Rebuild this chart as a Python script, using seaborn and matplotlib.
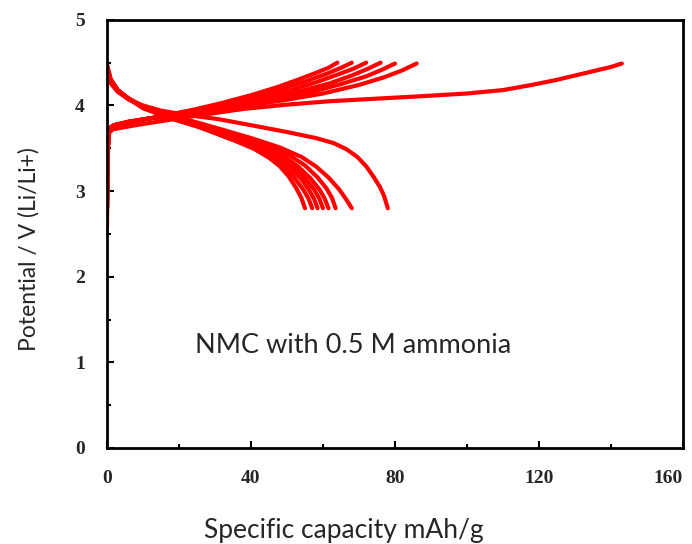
import pandas as pd
import seaborn as sns
import matplotlib.pyplot as plt
from matplotlib.ticker import MultipleLocator

# charge curves (capacity mAh/g, potential V) -- first cycle is the long one
charge_x = [
    [0, 0.2, 0.6, 1.5, 4, 8, 14, 20, 28, 38, 50, 62, 75, 88, 100, 110, 118, 125, 131, 136, 140, 143],
    [0, 0.2, 0.6, 2, 6, 12, 18, 25, 32, 40, 47, 53, 58, 61.5, 64],
    [0, 0.2, 0.6, 2, 6, 12, 18, 25, 32, 40, 48, 55, 61, 65, 68],
    [0, 0.2, 0.6, 2, 6, 12, 18, 25, 33, 42, 51, 58, 64, 68.5, 72],
    [0, 0.2, 0.6, 2, 6, 12, 18, 25, 34, 44, 54, 62, 68, 72.5, 76],
    [0, 0.2, 0.6, 2, 6, 12, 18, 26, 36, 47, 57, 65, 72, 76.5, 80],
    [0, 0.2, 0.6, 2, 6, 12, 18, 26, 37, 49, 60, 70, 77, 82, 86],
]
charge_y = [
    [2.57, 3.40, 3.68, 3.72, 3.74, 3.77, 3.81, 3.85, 3.90, 3.96, 4.01, 4.05, 4.08, 4.11, 4.14, 4.18, 4.24, 4.30, 4.36, 4.41, 4.45, 4.49],
    [2.80, 3.50, 3.72, 3.76, 3.80, 3.85, 3.90, 3.96, 4.03, 4.12, 4.21, 4.30, 4.38, 4.44, 4.50],
    [2.80, 3.50, 3.72, 3.76, 3.80, 3.85, 3.89, 3.95, 4.02, 4.10, 4.19, 4.28, 4.37, 4.44, 4.50],
    [2.80, 3.50, 3.73, 3.77, 3.81, 3.85, 3.89, 3.95, 4.01, 4.09, 4.18, 4.27, 4.36, 4.43, 4.50],
    [2.80, 3.50, 3.73, 3.77, 3.81, 3.85, 3.89, 3.94, 4.00, 4.08, 4.17, 4.26, 4.35, 4.43, 4.50],
    [2.80, 3.50, 3.73, 3.77, 3.81, 3.85, 3.88, 3.93, 4.00, 4.07, 4.16, 4.25, 4.34, 4.42, 4.49],
    [2.80, 3.50, 3.74, 3.77, 3.81, 3.85, 3.88, 3.93, 3.99, 4.06, 4.14, 4.24, 4.33, 4.41, 4.49],
]

# discharge curves -- the first (longest) one ends near 78 mAh/g
discharge_x = [
    [0, 1, 3, 6, 10, 15, 22, 31, 40, 50, 58, 63, 66.5, 69.5, 72, 74, 75.8, 77, 78],
    [0, 1, 3, 6, 10, 15, 20, 26, 31, 36, 41, 45, 48, 50.5, 52.5, 54, 55],
    [0, 1, 3, 6, 10, 15, 20, 26, 31, 36, 41, 46, 49.5, 52, 54.5, 56, 57],
    [0, 1, 3, 6, 10, 15, 20, 26, 31, 36, 42, 47, 51, 54, 56, 57.5, 58.5],
    [0, 1, 3, 6, 10, 15, 20, 26, 31, 37, 43, 48, 52, 55, 57.5, 59, 60],
    [0, 1, 3, 6, 10, 15, 20, 26, 31, 37, 44, 49, 53, 56.5, 59, 60.5, 61.5],
    [0, 1, 3, 6, 10, 15, 20, 26, 31, 38, 45, 51, 55, 58.5, 61, 62.5, 63.5],
    [0, 1, 3, 6, 10, 15, 20, 26, 31, 40, 48, 54, 58, 61.5, 64.5, 66.5, 68],
]
discharge_y = [
    [4.38, 4.26, 4.16, 4.07, 4.00, 3.94, 3.89, 3.84, 3.77, 3.69, 3.62, 3.56, 3.49, 3.40, 3.29, 3.17, 3.05, 2.94, 2.80],
    [4.48, 4.31, 4.18, 4.08, 3.97, 3.89, 3.82, 3.74, 3.66, 3.58, 3.49, 3.39, 3.29, 3.17, 3.04, 2.92, 2.80],
    [4.47, 4.30, 4.18, 4.08, 3.97, 3.89, 3.82, 3.75, 3.67, 3.59, 3.50, 3.39, 3.28, 3.16, 3.02, 2.91, 2.80],
    [4.46, 4.30, 4.17, 4.08, 3.98, 3.90, 3.83, 3.76, 3.68, 3.60, 3.50, 3.39, 3.27, 3.14, 3.02, 2.91, 2.80],
    [4.45, 4.29, 4.17, 4.08, 3.98, 3.90, 3.84, 3.76, 3.69, 3.61, 3.51, 3.40, 3.28, 3.15, 3.02, 2.91, 2.80],
    [4.44, 4.29, 4.17, 4.08, 3.98, 3.91, 3.84, 3.77, 3.70, 3.62, 3.52, 3.41, 3.29, 3.15, 3.02, 2.91, 2.80],
    [4.43, 4.28, 4.17, 4.08, 3.99, 3.91, 3.85, 3.78, 3.71, 3.62, 3.52, 3.41, 3.30, 3.16, 3.03, 2.92, 2.80],
    [4.42, 4.28, 4.17, 4.08, 3.99, 3.92, 3.86, 3.79, 3.73, 3.62, 3.51, 3.40, 3.29, 3.16, 3.02, 2.90, 2.80],
]

x_ticks = [0, 40, 80, 120, 160]
y_ticks = [0, 1, 2, 3, 4, 5]

rows = []
for i, (xs, ys) in enumerate(zip(charge_x, charge_y)):
    for x, y in zip(xs, ys):
        rows.append({"curve": f"c{i}", "cap": x, "pot": y})
for i, (xs, ys) in enumerate(zip(discharge_x, discharge_y)):
    for x, y in zip(xs, ys):
        rows.append({"curve": f"d{i}", "cap": x, "pot": y})
df = pd.DataFrame(rows)

sns.set_style("ticks")
fig = plt.figure(figsize=(6.92, 5.44), dpi=100)
ax = fig.add_axes([0.1546, 0.1765, 0.8324, 0.787])

sns.lineplot(data=df, x="cap", y="pot", units="curve", estimator=None,
             sort=False, color="#ff0000", linewidth=3, ax=ax, legend=False,
             solid_joinstyle="round")

ax.set_xlim(0, 160)
ax.set_ylim(0, 5)
ax.set_xticks(x_ticks)
ax.set_yticks(y_ticks)
ax.xaxis.set_minor_locator(MultipleLocator(20))
ax.yaxis.set_minor_locator(MultipleLocator(0.5))
ax.tick_params(which="both", direction="in", width=1.5, color="black")
ax.tick_params(which="major", length=5, pad=16)
ax.tick_params(which="minor", length=3)
for sp in ax.spines.values():
    sp.set_linewidth(2)
    sp.set_color("black")
ax.set_xticklabels([str(t) for t in x_ticks])
ax.set_yticklabels([str(t) for t in y_ticks])
for lab in ax.get_xticklabels() + ax.get_yticklabels():
    lab.set_family("Liberation Serif")
    lab.set_fontweight("bold")
    lab.set_fontsize(14)
ax.get_xticklabels()[-1].set_ha("right")

ax.set_xlabel("Specific capacity mAh/g", family="Lato", fontsize=19)
ax.xaxis.set_label_coords(0.412, -0.21)
ax.xaxis.label.set_va("baseline")
ax.set_ylabel("Potential / V (Li/Li+)", family="Lato", fontsize=16.5)
ax.yaxis.set_label_coords(-0.136, 0.465)
ax.yaxis.label.set_va("center")
ax.yaxis.label.set_ha("center")
ax.text(24.5, 1.11, "NMC with 0.5 M ammonia", family="Lato", fontsize=19.5,
        va="baseline", ha="left")

fig.savefig("out.png", dpi=100)
